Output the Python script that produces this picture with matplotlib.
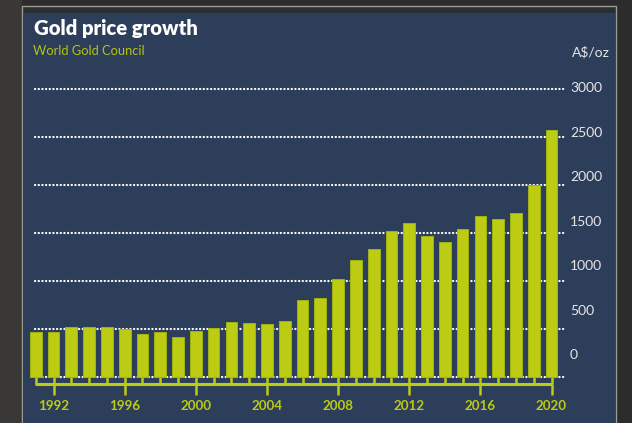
# Gold price growth in A$/oz, 1991-2020
import matplotlib.pyplot as plt
from matplotlib.patches import Rectangle

years = list(range(1991, 2021))
prices = [466, 466, 524, 517, 517, 500, 444, 466, 420, 479,
          514, 569, 562, 552, 583, 802, 828, 1026, 1222, 1337,
          1517, 1608, 1465, 1406, 1545, 1681, 1646, 1708, 2000, 2575]
label_years = [1992, 1996, 2000, 2004, 2008, 2012, 2016, 2020]
grid_vals = [0, 500, 1000, 1500, 2000, 2500, 3000]

panel = '#2d3e5a'
lime = '#bccc12'
W, H = 632, 423

fig = plt.figure(figsize=(W / 100, H / 100), dpi=100, facecolor='#2c2c2c')

# photo-ish backdrop and the framed panel
fig.patches.append(Rectangle((0, 0), 22 / W, 1, transform=fig.transFigure,
                             facecolor='#3a3836', edgecolor='none', zorder=0))
fig.patches.append(Rectangle((22 / W, -0.01), 594 / W, (H - 6) / H + 0.01,
                             transform=fig.transFigure, facecolor='#2b2e33',
                             edgecolor='#9c9c92', linewidth=1.0, zorder=1))
fig.patches.append(Rectangle((23 / W, -0.01), 592 / W, (H - 13) / H + 0.01,
                             transform=fig.transFigure, facecolor=panel,
                             edgecolor='none', zorder=2))

ax = fig.add_axes([22 / W, 0, 594 / W, (H - 13) / H], zorder=5)
ax.set_facecolor('none')
ax.set_xlim(1990.224, 2023.627)
ax.set_ylim(-479, 3792)
ax.axis('off')

# dotted gridlines behind bars
ax.hlines(grid_vals, 1990.955, 2020.76, colors='white', linewidth=1.6,
          linestyles=[(0, (0.1, 1.55))], capstyle='round', zorder=1)

ax.bar(years, prices, width=0.66, color=lime, edgecolor='#a2b30e',
       linewidth=0.7, zorder=3)

# connector below the bars
ax.vlines(years, 0, -73, colors=lime, linewidth=1.8, zorder=2)
ax.hlines(-73, years[0] - 0.05, years[-1] + 0.05, colors=lime, linewidth=2.2, zorder=2)
ax.vlines(label_years, -73, -188, colors=lime, linewidth=1.8, zorder=2)
for yr in label_years:
    ax.text(yr, -302, str(yr), ha='center', va='center', color=lime,
            fontsize=9.6, fontweight='bold', family='Lato')

# value labels (sit slightly off the gridlines, as in the original)
for v in grid_vals:
    ypos = (377 - (355 - v * 0.089)) * 500 / 48
    ax.text(2021.04, ypos, str(v), ha='left', va='center', color='#e6e6e6',
            fontsize=10, family='Lato')

fig.text(572 / W, 1 - 52 / H, 'A$/oz', ha='left', va='center', color='#e6e6e6',
         fontsize=10, family='Lato', zorder=6)
fig.text(34 / W, 1 - 29 / H, 'Gold price growth', ha='left', va='center',
         color='white', fontsize=14.6, fontweight='heavy', family='Lato', zorder=6)
fig.text(33 / W, 1 - 51 / H, 'World Gold Council', ha='left', va='center',
         color='#b3c316', fontsize=9.3, family='Lato', zorder=6)

fig.savefig('out.png', dpi=100, facecolor=fig.get_facecolor())
